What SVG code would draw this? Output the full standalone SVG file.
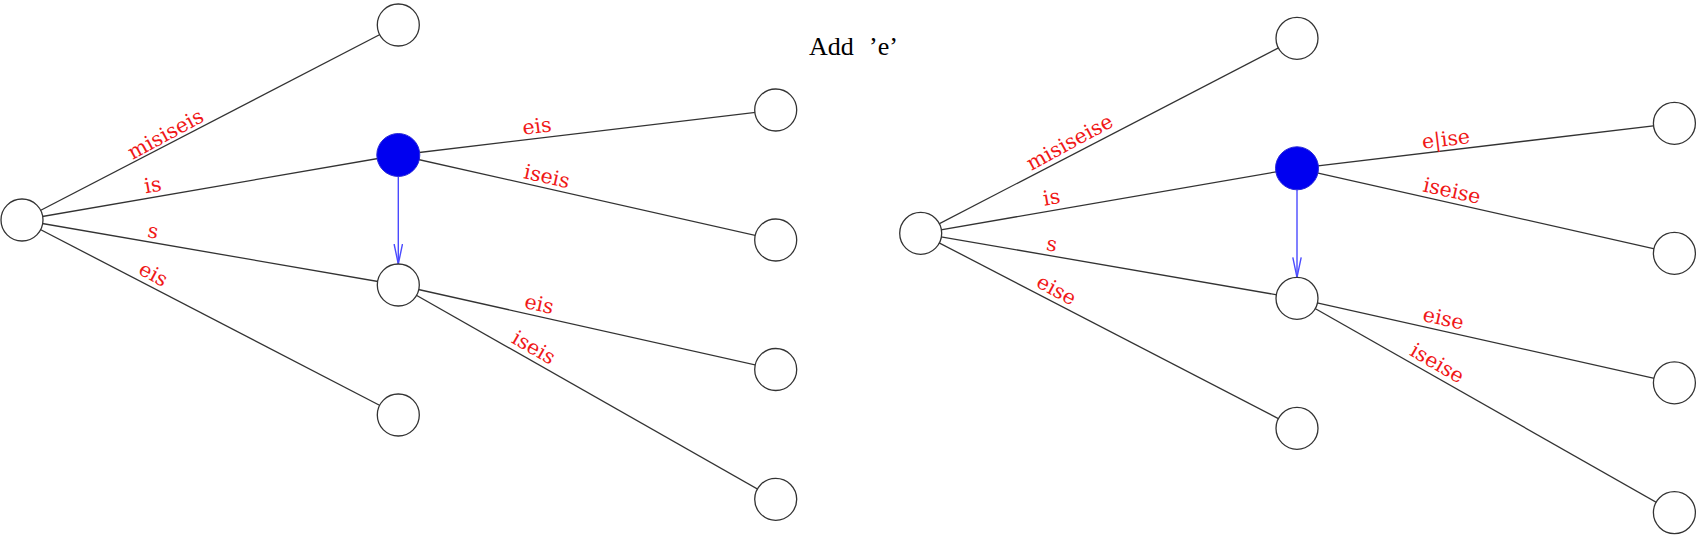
<svg xmlns="http://www.w3.org/2000/svg" width="1700" height="549" viewBox="0 0 1700 549">
<style>
.edge{stroke:#333;stroke-width:1.3;fill:none}
.ptr{stroke:#4a4aff;stroke-width:1.4;fill:none}
.node{fill:#fff;stroke:#333;stroke-width:1.3}
.cur{fill:#0000f0;stroke:#2a2ad8;stroke-width:1}
.lbl{font-family:"DejaVu Serif",serif;font-size:20.5px;fill:#f01818;text-anchor:middle}
.title{font-family:"Liberation Serif",serif;font-size:26px;fill:#000}
</style>
<defs>
<marker id="v" markerUnits="userSpaceOnUse" viewBox="0 0 21 10" refX="20" refY="5" markerWidth="21" markerHeight="10" orient="auto">
<path d="M0,0.8 L20,5 L0,9.2" fill="none" stroke="#4a4aff" stroke-width="1.4"/>
</marker>
</defs>
<rect width="1700" height="549" fill="#fff"/>
<text class="title" x="809" y="55">Add <tspan x="869">’e’</tspan></text>
<g id="connectors">
<line class="edge" x1="22" y1="220" x2="398.3" y2="25"/>
<line class="edge" x1="22" y1="220" x2="398.3" y2="155"/>
<line class="edge" x1="22" y1="220" x2="398.3" y2="285"/>
<line class="edge" x1="22" y1="220" x2="398.3" y2="415"/>
<line class="edge" x1="398.3" y1="155" x2="775.7" y2="110"/>
<line class="edge" x1="398.3" y1="155" x2="775.7" y2="240"/>
<line class="edge" x1="398.3" y1="285" x2="775.7" y2="369.5"/>
<line class="edge" x1="398.3" y1="285" x2="775.7" y2="499.3"/>
<line class="ptr" x1="398.3" y1="176.5" x2="398.3" y2="264" marker-end="url(#v)"/>
<text class="lbl" transform="translate(166,135) rotate(-28.5)" y="6">misiseis</text>
<text class="lbl" transform="translate(153,186) rotate(-9.8)" y="6">is</text>
<text class="lbl" transform="translate(153,232) rotate(9.8)" y="6">s</text>
<text class="lbl" transform="translate(153,275) rotate(28.5)" y="6">eis</text>
<text class="lbl" transform="translate(537,127) rotate(-6.8)" y="6">eis</text>
<text class="lbl" transform="translate(546.7,177.3) rotate(12.7)" y="6">iseis</text>
<text class="lbl" transform="translate(539,305) rotate(12.6)" y="6">eis</text>
<text class="lbl" transform="translate(533.3,348.3) rotate(30)" y="6">iseis</text>
<line class="edge" x1="920.7" y1="233.3" x2="1297" y2="38.3"/>
<line class="edge" x1="920.7" y1="233.3" x2="1297" y2="168.3"/>
<line class="edge" x1="920.7" y1="233.3" x2="1297" y2="298.3"/>
<line class="edge" x1="920.7" y1="233.3" x2="1297" y2="428.3"/>
<line class="edge" x1="1297" y1="168.3" x2="1674.4" y2="123.3"/>
<line class="edge" x1="1297" y1="168.3" x2="1674.4" y2="253.3"/>
<line class="edge" x1="1297" y1="298.3" x2="1674.4" y2="382.8"/>
<line class="edge" x1="1297" y1="298.3" x2="1674.4" y2="512.6"/>
<line class="ptr" x1="1297" y1="189.8" x2="1297" y2="277.3" marker-end="url(#v)"/>
<text class="lbl" transform="translate(1070,143) rotate(-28.5)" y="6">misiseise</text>
<text class="lbl" transform="translate(1051.7,198.3) rotate(-9.8)" y="6">is</text>
<text class="lbl" transform="translate(1051.7,245) rotate(9.8)" y="6">s</text>
<text class="lbl" transform="translate(1056,290.7) rotate(28.5)" y="6">eise</text>
<text class="lbl" transform="translate(1446,140) rotate(-6.8)" y="6">e|ise</text>
<text class="lbl" transform="translate(1451.7,191.7) rotate(12.7)" y="6">iseise</text>
<text class="lbl" transform="translate(1443.3,319.3) rotate(12.6)" y="6">eise</text>
<text class="lbl" transform="translate(1436.7,364) rotate(30)" y="6">iseise</text>
</g>
<g id="n-root-a"><circle class="node" cx="22" cy="220" r="21"/></g>
<g id="n-top-a"><circle class="node" cx="398.3" cy="25" r="21"/></g>
<g id="n-cur-a"><circle class="cur" cx="398.3" cy="155" r="21.5"/></g>
<g id="n-mid-a"><circle class="node" cx="398.3" cy="285" r="21"/></g>
<g id="n-low-a"><circle class="node" cx="398.3" cy="415" r="21"/></g>
<g id="n-c1-a"><circle class="node" cx="775.7" cy="110" r="21"/></g>
<g id="n-c2-a"><circle class="node" cx="775.7" cy="240" r="21"/></g>
<g id="n-c3-a"><circle class="node" cx="775.7" cy="369.5" r="21"/></g>
<g id="n-c4-a"><circle class="node" cx="775.7" cy="499.3" r="21"/></g>
<g id="n-root-b"><circle class="node" cx="920.7" cy="233.3" r="21"/></g>
<g id="n-top-b"><circle class="node" cx="1297" cy="38.3" r="21"/></g>
<g id="n-cur-b"><circle class="cur" cx="1297" cy="168.3" r="21.5"/></g>
<g id="n-mid-b"><circle class="node" cx="1297" cy="298.3" r="21"/></g>
<g id="n-low-b"><circle class="node" cx="1297" cy="428.3" r="21"/></g>
<g id="n-c1-b"><circle class="node" cx="1674.4" cy="123.3" r="21"/></g>
<g id="n-c2-b"><circle class="node" cx="1674.4" cy="253.3" r="21"/></g>
<g id="n-c3-b"><circle class="node" cx="1674.4" cy="382.8" r="21"/></g>
<g id="n-c4-b"><circle class="node" cx="1674.4" cy="512.6" r="21"/></g>
</svg>
